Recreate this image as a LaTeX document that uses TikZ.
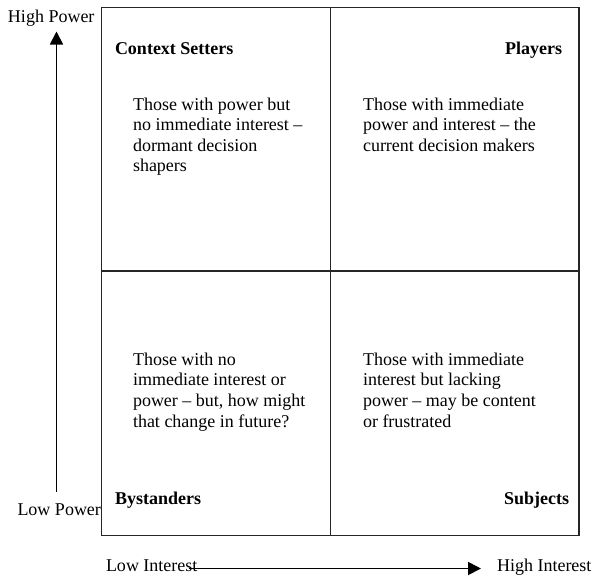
\documentclass[tikz,border=0pt]{standalone}
\usepackage{fontspec}
\setmainfont{Liberation Serif}
\usetikzlibrary{arrows.meta}
\begin{document}
\begin{tikzpicture}[x=1pt,y=-1pt,
  every node/.style={inner sep=0pt,outer sep=0pt,font=\fontsize{18}{20.6}\selectfont},
  frame/.style={line width=1.5pt,draw=black!85},
  axis/.style={line width=1.8pt,-{Triangle[length=13pt,width=13pt]}},
  head/.style={font=\fontsize{18}{20.6}\selectfont\bfseries},
  body/.style={align=left,anchor=north west}]
\useasboundingbox (0,0) rectangle (593,579);
% grid
\draw[frame] (101.5,7.5) rectangle (579,535.5);
\draw[frame] (330.5,7.5) -- (330.5,535.5);
\draw[frame] (101.5,271) -- (579,271);
% headings
\node[head,anchor=base west] (cs) at (115,54) {Context Setters};
\node[head,anchor=base east] (pl) at (562,54) {Players};
\node[head,anchor=base west] (by) at (115,504) {Bystanders};
\node[head,anchor=base east] (su) at (569,504) {Subjects};
% bodies
\node[body] (t1) at (133,97.7) {Those with power but\\no immediate interest –\\dormant decision\\shapers};
\node[body] (t2) at (363,97.7) {Those with immediate\\power and interest – the\\current decision makers};
\node[body] (t3) at (133,352.7) {Those with no\\immediate interest or\\power – but, how might\\that change in future?};
\node[body] (t4) at (363,352.7) {Those with immediate\\interest but lacking\\power – may be content\\or frustrated};
% axis labels
\node[anchor=base west] (hp) at (8,22) {High Power};
\node[anchor=base west] (lp) at (17.5,515.7) {Low Power};
\node[anchor=base west] (li) at (106,571.5) {Low Interest};
\node[anchor=base west] (hi) at (497,571.5) {High Interest};
% axes
\coordinate (vbot) at (56.5,492);
\coordinate (vtop) at (56.5,31.5);
\coordinate (hleft) at (189,568.5);
\coordinate (hright) at (481,568.5);
\draw[axis] (vbot) -- (vtop);
\draw[axis] (hleft) -- (hright);
\end{tikzpicture}
\end{document}
